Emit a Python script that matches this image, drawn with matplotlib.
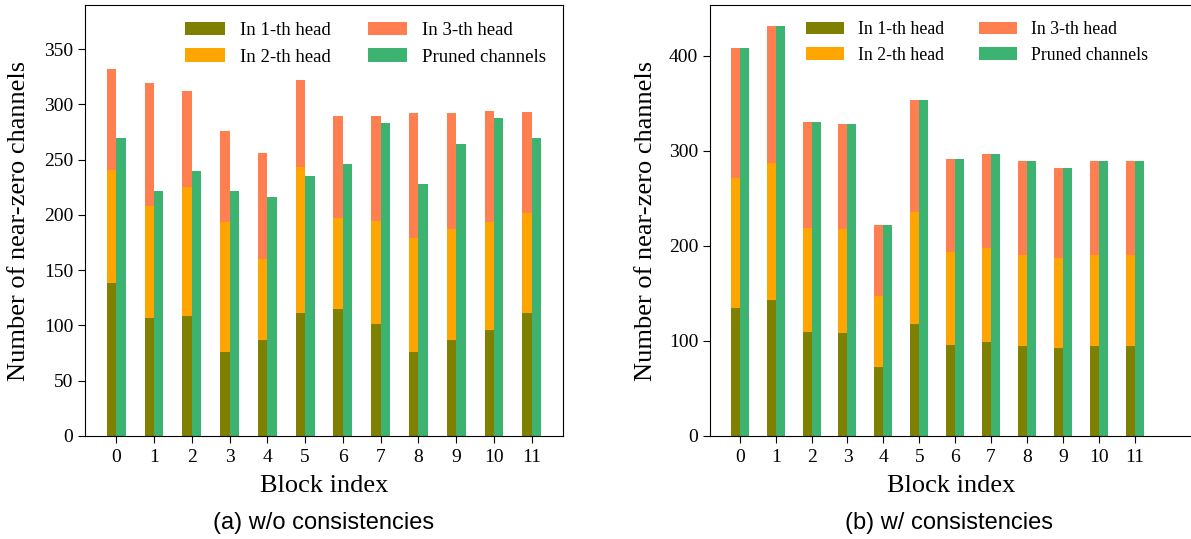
import matplotlib
matplotlib.use("Agg")
import matplotlib.pyplot as plt
import numpy as np

# block indices
blocks = list(range(12))

# (a) w/o consistencies - cumulative stack tops
a_head1 = [138, 107, 109, 76, 87, 111, 115, 101, 76, 87, 96, 111]
a_head2 = [241, 208, 225, 194, 160, 243, 197, 195, 179, 187, 194, 202]
a_head3 = [332, 319, 312, 276, 256, 322, 290, 290, 292, 292, 294, 293]
a_pruned = [270, 222, 240, 222, 216, 235, 246, 283, 228, 264, 288, 270]

# (b) w/ consistencies
b_head1 = [135, 143, 109, 108, 73, 118, 96, 99, 95, 93, 95, 95]
b_head2 = [272, 287, 219, 218, 147, 236, 194, 198, 191, 187, 191, 191]
b_head3 = [408, 432, 330, 328, 222, 354, 291, 297, 289, 282, 289, 289]
b_pruned = [408, 432, 330, 328, 222, 354, 291, 297, 289, 282, 289, 289]

serif = ['Liberation Serif', 'DejaVu Serif']
sans = ['Liberation Sans Narrow', 'Liberation Sans', 'DejaVu Sans']
plt.rcParams['font.family'] = serif

W, H = 1191, 539
fig = plt.figure(figsize=(W / 100, H / 100), dpi=100)

# axes placed in pixel terms
ax1 = fig.add_axes([85 / W, (H - 436) / H, 478 / W, 431 / H])
ax2 = fig.add_axes([710 / W, (H - 436) / H, 482 / W, 431 / H])


def draw(ax, h1, h2, h3, pruned):
    x = np.array(blocks)
    w = 0.25
    h1 = np.array(h1)
    h2 = np.array(h2)
    h3 = np.array(h3)
    # stacked head bars to the left of tick, pruned to the right
    ax.bar(x - w / 2, h1, w, color='olive', label='In 1-th head')
    ax.bar(x - w / 2, h2 - h1, w, bottom=h1, color='orange', label='In 2-th head')
    ax.bar(x - w / 2, h3 - h2, w, bottom=h2, color='coral', label='In 3-th head')
    ax.bar(x + w / 2, pruned, w, color='mediumseagreen', label='Pruned channels')
    ax.set_xticks(x)
    ax.set_xticklabels([str(b) for b in blocks])
    ax.tick_params(labelsize=14, length=5)
    ax.tick_params(axis='x', pad=4)
    ax.set_xlabel('Block index', fontsize=19, labelpad=7)
    ax.set_ylabel('Number of near-zero channels', fontsize=19)


draw(ax1, a_head1, a_head2, a_head3, a_pruned)
draw(ax2, b_head1, b_head2, b_head3, b_pruned)

ax1.set_xlim(-0.825, 11.825)
ax1.set_ylim(0, 390)
ax1.set_yticks(np.arange(0, 351, 50))
ax2.set_xlim(-0.83, 12.6)
ax2.set_ylim(0, 453.6)
ax2.set_yticks(np.arange(0, 401, 100))

ax1.yaxis.set_label_coords(-0.115, 0.5)
ax2.yaxis.set_label_coords(-0.11, 0.5)

# legend order: 1-th, 2-th in first column; 3-th, pruned in second
for ax, anchor, fs in [(ax1, 1.0, 13.5), (ax2, 0.942, 12.8)]:
    handles, labels = ax.get_legend_handles_labels()
    ax.legend(handles, labels, ncol=2, loc='upper right',
              bbox_to_anchor=(anchor, 1.0), frameon=False, fontsize=fs,
              handlelength=2.1, handletextpad=0.8, columnspacing=2.0)

fig.text((85 + 563) / 2 / W, (H - 523) / H, '(a) w/o consistencies',
         ha='center', va='center', fontsize=17, family=sans)
fig.text(949 / W, (H - 523) / H, '(b) w/ consistencies',
         ha='center', va='center', fontsize=17, family=sans)

fig.savefig('out.png', dpi=100)
